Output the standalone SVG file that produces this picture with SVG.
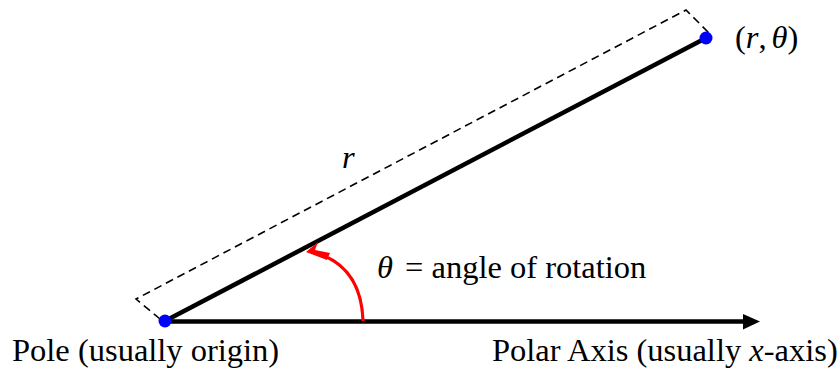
<svg xmlns="http://www.w3.org/2000/svg" width="840" height="370" viewBox="0 0 840 370">
<style>
text{font-family:"Liberation Serif","Times New Roman",serif;font-size:32.5px;fill:#000}
.it{font-style:italic}
.dot{fill:#0000ff}
.ln{stroke:#000;stroke-width:4.5;fill:none}
.dash{stroke:#000;stroke-width:1.6;fill:none;stroke-dasharray:8,5}
</style>
<rect width="840" height="370" fill="#fff"/>
<g id="connectors">
<polyline class="dash" points="160,319 136,299 686,10 711,35"/>
<line class="ln" x1="165" y1="321" x2="706" y2="38"/>
<line class="ln" x1="165" y1="321.5" x2="745" y2="321.5"/>
<polygon points="743,314 760,321.5 743,329.5" fill="#000"/>
<path d="M363,321 C362,290 350,262 313,252" stroke="#ff0000" stroke-width="3.2" fill="none"/>
<polygon points="306,252 318,242 315,250 330,253 327,260" fill="#ff0000"/>
</g>
<g id="pole">
<circle class="dot" cx="165" cy="321" r="6.5"/>
<text x="12" y="361">Pole (usually origin)</text>
</g>
<g id="point">
<circle class="dot" cx="706" cy="38" r="6.5"/>
<text x="735" y="48">(<tspan class="it">r</tspan>,<tspan class="it" dx="5">θ</tspan>)</text>
</g>
<g id="r-label">
<text class="it" x="342" y="168">r</text>
</g>
<g id="angle-label">
<text x="377" y="278"><tspan class="it">θ</tspan><tspan dx="4"> = angle of rotation</tspan></text>
</g>
<g id="axis-label">
<text x="492" y="361">Polar Axis (usually <tspan class="it">x</tspan>-axis)</text>
</g>
</svg>
